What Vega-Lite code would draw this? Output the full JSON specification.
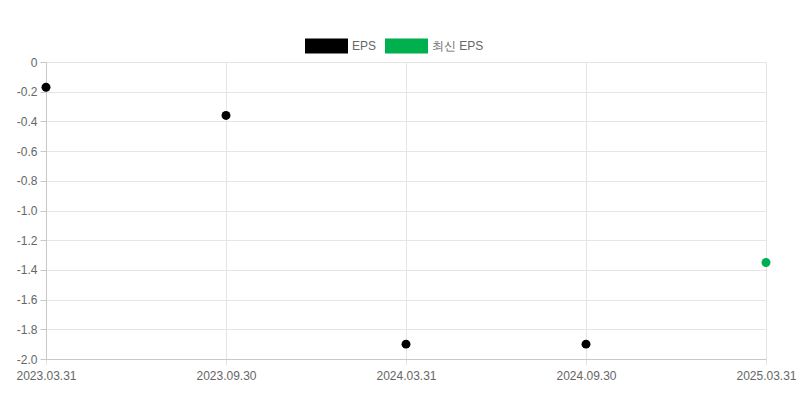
{
  "$schema": "https://vega.github.io/schema/vega-lite/v6.json",
  "width": 720,
  "height": 297,
  "autosize": "none",
  "padding": {"left": 46, "top": 62, "right": 34, "bottom": 41},
  "background": "white",
  "data": {
    "values": [
      {"date": "2023.03.31", "eps": -0.17, "series": "EPS"},
      {"date": "2023.09.30", "eps": -0.36, "series": "EPS"},
      {"date": "2024.03.31", "eps": -1.9, "series": "EPS"},
      {"date": "2024.09.30", "eps": -1.9, "series": "EPS"},
      {"date": "2025.03.31", "eps": -1.35, "series": "최신 EPS"}
    ]
  },
  "mark": {"type": "point", "filled": true, "opacity": 1, "size": 80, "clip": false},
  "encoding": {
    "x": {
      "field": "date",
      "type": "ordinal",
      "sort": null,
      "scale": {"type": "point", "padding": 0},
      "axis": {
        "title": null,
        "labelAngle": 0,
        "labelPadding": 5,
        "tickSize": 6,
        "tickColor": "#e5e5e5",
        "gridColor": "#e5e5e5",
        "domainColor": "#c8c8c8",
        "grid": true
      }
    },
    "y": {
      "field": "eps",
      "type": "quantitative",
      "scale": {"domain": [-2, 0], "nice": false, "zero": false},
      "axis": {
        "title": null,
        "values": [0, -0.2, -0.4, -0.6, -0.8, -1.0, -1.2, -1.4, -1.6, -1.8, -2.0],
        "labelExpr": "datum.value == 0 ? '0' : (datum.value < 0 ? '-' : '') + format(abs(datum.value), '.1f')",
        "tickSize": 6,
        "labelPadding": 3,
        "tickColor": "#c8c8c8",
        "gridColor": "#e5e5e5",
        "domainColor": "#c8c8c8",
        "grid": true
      }
    },
    "color": {
      "field": "series",
      "type": "nominal",
      "scale": {"domain": ["EPS", "최신 EPS"], "range": ["#000000", "#00b04f"]},
      "legend": {
        "title": null,
        "orient": "none",
        "legendX": 259,
        "legendY": -38,
        "direction": "horizontal",
        "symbolType": "M-1,-0.35H1V0.35H-1Z",
        "symbolSize": 1849,
        "symbolStrokeWidth": 0,
        "labelOffset": 4,
        "columnPadding": 8
      }
    }
  },
  "config": {
    "font": "Liberation Sans",
    "view": {"stroke": null},
    "axis": {"labelFont": "Liberation Sans", "labelFontSize": 12, "labelColor": "#666666"},
    "legend": {"labelFont": "Liberation Sans", "labelFontSize": 12, "labelColor": "#666666"}
  }
}
